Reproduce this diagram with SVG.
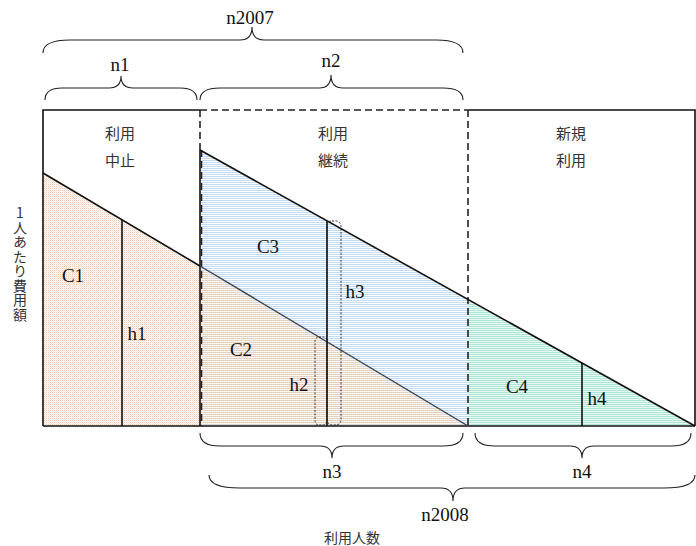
<svg xmlns="http://www.w3.org/2000/svg" width="696" height="546" viewBox="0 0 696 546">
<style>
.lat{font-family:"Liberation Serif","DejaVu Serif",serif;font-size:19px;fill:#111;text-anchor:middle}
.jp{font-family:"Noto Sans CJK JP","Noto Sans",sans-serif;font-size:15px;fill:#333;text-anchor:middle}
.ln{stroke:#111;stroke-width:1.6;fill:none}
.dash{stroke:#222;stroke-width:1.6;fill:none;stroke-dasharray:7,4}
.dot{stroke:#222;stroke-width:0.9;fill:none;stroke-dasharray:2,1.5}
.brace{stroke:#222;stroke-width:1.1;fill:none}
</style>
<defs>
<pattern id="pOr" width="2" height="2" patternUnits="userSpaceOnUse">
<rect x="0" y="0" width="1" height="1" fill="#f7caae"/>
<rect x="1" y="1" width="1" height="1" fill="#fce8da"/>
</pattern>
<pattern id="pBl" width="2" height="2" patternUnits="userSpaceOnUse">
<rect x="0" y="0" width="2" height="1" fill="#c0dbf2"/>
</pattern>
<pattern id="pGr" width="2" height="2" patternUnits="userSpaceOnUse">
<rect x="0" y="0" width="2" height="2" fill="#e8f8f3"/>
<rect x="0" y="0" width="2" height="1" fill="#ade6d6"/>
</pattern>
</defs>
<rect x="0" y="0" width="696" height="546" fill="#fff"/>

<g id="fills">
<polygon points="200,150 468,300 468,426 200,426" fill="url(#pBl)"/>
<polygon points="43,173 200,266 200,426 43,426" fill="url(#pOr)"/>
<polygon points="200,266 468,426 200,426" fill="url(#pOr)" opacity="0.7"/>
<polygon points="468,300 695,426 468,426" fill="url(#pGr)"/>
</g>

<g id="connectors">
<path class="ln" d="M43,426 L43,110 L200,110 M468,110 L695,110 L695,426 M43,426 L695,426"/>
<path class="dash" d="M200,110 L468,110 M200,110 L200,150 M468,110 L468,426"/>
<path class="ln" d="M200,150 L200,426"/>
<path class="dash" d="M201.5,150 L201.5,426" stroke="#555" stroke-width="1"/>
<path class="ln" d="M43,173 L200,266"/>
<path d="M200,266 L468,426" stroke="#3a4250" stroke-width="1.4" fill="none"/>
<path class="ln" d="M200,150 L695,426"/>
<path class="ln" d="M122,220 L122,426 M327,221 L327,426 M582,363 L582,426"/>
<rect class="dot" x="327" y="221" width="14" height="204" rx="5"/>
<rect class="dot" x="315" y="337" width="12" height="88" rx="4"/>
<path class="brace" d="M43,53 Q43,40 70,40 L240,40 Q252,40 252,27 Q252,40 264,40 L436,40 Q463,40 463,53"/>
<path class="brace" d="M45,100 Q45,88 62,88 L109,88 Q121,88 121,76 Q121,88 133,88 L180,88 Q197,88 197,100"/>
<path class="brace" d="M200,100 Q200,88 220,88 L319,88 Q331,88 331,75 Q331,88 343,88 L443,88 Q463,88 463,100"/>
<path class="brace" d="M200,433 Q200,446 220,446 L320,446 Q332,446 332,458 Q332,446 344,446 L443,446 Q463,446 463,433"/>
<path class="brace" d="M475,433 Q475,446 495,446 L570,446 Q582,446 582,458 Q582,446 594,446 L671,446 Q691,446 691,433"/>
<path class="brace" d="M209,475 Q209,488 240,488 L441,488 Q453,488 453,501 Q453,488 465,488 L664,488 Q695,488 695,475"/>
</g>

<g id="labels-top">
<text class="lat" x="250" y="24">n2007</text>
<text class="lat" x="120" y="71">n1</text>
<text class="lat" x="331" y="67">n2</text>
</g>

<g id="seg-stop">
<text class="jp" x="120" y="139">利用</text>
<text class="jp" x="120" y="166">中止</text>
</g>
<g id="seg-cont">
<text class="jp" x="333" y="139">利用</text>
<text class="jp" x="333" y="166">継続</text>
</g>
<g id="seg-new">
<text class="jp" x="571" y="139">新規</text>
<text class="jp" x="571" y="166">利用</text>
</g>

<g id="C1"><text class="lat" x="73" y="282">C1</text></g>
<g id="h1"><text class="lat" x="137" y="340">h1</text></g>
<g id="C3"><text class="lat" x="268" y="253">C3</text></g>
<g id="h3"><text class="lat" x="355" y="298">h3</text></g>
<g id="C2"><text class="lat" x="241" y="356">C2</text></g>
<g id="h2"><text class="lat" x="299" y="391">h2</text></g>
<g id="C4"><text class="lat" x="517" y="393">C4</text></g>
<g id="h4"><text class="lat" x="597" y="405">h4</text></g>

<g id="labels-bottom">
<text class="lat" x="332" y="478">n3</text>
<text class="lat" x="582" y="478">n4</text>
<text class="lat" x="445" y="521">n2008</text>
<text class="jp" x="352" y="543" style="font-size:14px">利用人数</text>
</g>

<g id="y-axis-label">
<text x="20" y="206" style="font-family:'Noto Sans CJK JP','Noto Sans',sans-serif;font-size:14px;fill:#333;writing-mode:vertical-rl;text-orientation:upright;letter-spacing:0.5px">1人あたり費用額</text>
</g>
</svg>
